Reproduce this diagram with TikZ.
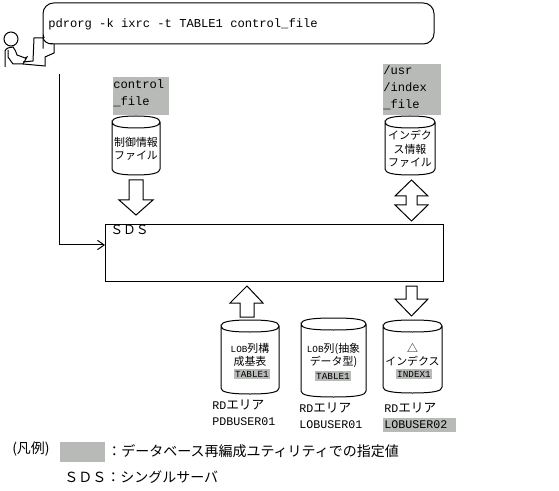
\documentclass[tikz,border=0pt]{standalone}
\usepackage{fontspec}
\setmainfont{Liberation Mono}
\newfontfamily\jpfont{Noto Sans CJK JP}
\usetikzlibrary{arrows.meta}
\definecolor{spec}{RGB}{184,186,184}
% drum: left, right, top, bottom (reference pixels)
\newcommand{\drum}[4]{%
  \draw[ln] (#1,#3+6) .. controls (#1,#3+2) and (#1+8,#3) .. ({(#1+#2)/2},#3)
     .. controls (#2-8,#3) and (#2,#3+2) .. (#2,#3+6)
     .. controls (#2,#3+10) and (#2-8,#3+12) .. ({(#1+#2)/2},#3+12)
     .. controls (#1+8,#3+12) and (#1,#3+10) .. (#1,#3+6)
     -- (#1,#4-6) .. controls (#1,#4-2) and (#1+8,#4) .. ({(#1+#2)/2},#4)
     .. controls (#2-8,#4) and (#2,#4-2) .. (#2,#4-6) -- (#2,#3+6);}

\begin{document}
\begin{tikzpicture}[x=0.75pt,y=-0.75pt,
  ln/.style={draw=black,line width=0.75pt},
  patch/.style={fill=spec,draw=none},
  lab/.style={inner sep=0pt,align=left,anchor=north west},
  jp/.style={inner sep=0pt,align=center,font=\fontsize{7}{10}\selectfont},
  jpj/.style={inner sep=0pt,align=center,font=\jpfont\fontsize{8.2}{10}\selectfont},
  tag/.style={inner sep=0pt,font=\fontsize{7}{8}\selectfont},
  rd/.style={inner sep=0pt,anchor=north west,align=left,font=\fontsize{8.75}{12}\selectfont}]
\useasboundingbox (0,0) rectangle (559,491);

%% command balloon and operator
\draw[ln,rounded corners=8pt] (43,38) -- (43,3) -- (434,3) -- (434,44) -- (43,44) -- cycle;
\fill[white] (44,38) rectangle (54,43.5);
\draw[ln] (43,38) -- (34,38) -- (33,61) -- (23,62);
\draw[ln] (23,64) -- (45,66) -- (45,57) -- (54,53) -- (54,44);
\draw[ln] (43,38) .. controls (44,41) and (47,44) .. (52,44);
\node[lab,font=\fontsize{9.1}{11}\selectfont] (cmd) at (48,18) {pdrorg -k ixrc -t TABLE1 control\_file};
\node[ln,circle,fill=white,minimum size=10.5pt,inner sep=0pt] (head) at (11,39) {};
\draw[ln] (5,67) -- (5,51) .. controls (6,48) and (10,47) .. (13,47) .. controls (15,49) and (16,52) .. (17,55) -- (25,58) -- (27,57) -- (23,64) -- (13,64) -- (8,57) -- (8,50);

%% specified values
\fill[patch] (113,77) rectangle (169,115);
\fill[patch] (383,64) rectangle (441,115);
\fill[patch] (383,418) rectangle (456,432);
\fill[patch] (60,442) rectangle (105,462);

\node[lab,font=\fontsize{9.1}{12.8}\selectfont] (ctlname) at (113,79) {control\\\_file};
\node[lab,font=\fontsize{9.1}{12.8}\selectfont] (idxname) at (383,65) {/usr\\/index\\\_file};

%% files
\drum{112}{160}{116}{175}
\drum{385}{435}{116}{175}
\node[jpj] (ctltext) at (136,149) {制御情報\\ファイル};
\node[jpj] (idxtext) at (410,149) {インデク\\ス情報\\ファイル};

%% server
\node[ln,minimum width=253.5pt,minimum height=42pt,inner sep=0pt] (sds) at (274.5,253) {};
\node[lab,font=\jpfont\fontsize{9.6}{11}\selectfont] (sdsname) at (110,225) {ＳＤＳ};
\coordinate (from) at (59,74);
\coordinate (into) at (105,245);
\draw[ln,-{Straight Barb[length=5pt,width=7pt]}] (from) |- (into);

%% block arrows
\draw[ln] (129,180) -- (143,180) -- (143,200) -- (153,200) -- (136,215) -- (119,200) -- (129,200) -- cycle;
\draw[ln] (411.5,180) -- (428,196) -- (417,196) -- (417,205) -- (428,205) -- (411.5,221) -- (395,205) -- (406,205) -- (406,196) -- (395,196) -- cycle;
\draw[ln] (247,286) -- (263,303) -- (254,303) -- (254,317) -- (240,317) -- (240,303) -- (230,303) -- cycle;
\draw[ln] (406,286) -- (417,286) -- (417,299) -- (428,299) -- (411.5,316) -- (395,299) -- (406,299) -- cycle;

%% RD areas
\drum{221}{279}{320}{394}
\drum{301}{366}{318}{397}
\drum{383}{442}{320}{393}
\fill[patch] (234,369) rectangle (270,379);
\fill[patch] (315,371) rectangle (351,381);
\fill[patch] (396,369) rectangle (432,379);
\node[jp] (pdbtext) at (250,355) {LOB{\jpfont\fontsize{8.2}{10}\selectfont 列構}\\{\jpfont\fontsize{8.2}{10}\selectfont 成基表}};
\node[jp] (lobtext) at (333.5,355.5) {LOB{\jpfont\fontsize{8.2}{10}\selectfont 列(抽象}\\{\jpfont\fontsize{8.2}{10}\selectfont データ型)}};
\node[jpj] (inxtext) at (412.5,354.5) {△\\インデクス};
\node[tag] (pdbtab) at (252,374) {TABLE1};
\node[tag] (lobtab) at (333,376) {TABLE1};
\node[tag] (inxtab) at (414,374) {INDEX1};
\node[rd] (pdbarea) at (212,399.5) {RD{\jpfont\fontsize{9.5}{12}\selectfont エリア}\\PDBUSER01};
\node[rd] (lobarea) at (299,402.5) {RD{\jpfont\fontsize{9.5}{12}\selectfont エリア}\\LOBUSER01};
\node[rd] (inxarea) at (384,403) {RD{\jpfont\fontsize{9.5}{12}\selectfont エリア}\\LOBUSER02};

%% legend
\node[lab,font=\jpfont\fontsize{10.5}{12}\selectfont] (hanrei) at (12,442) {(凡例)};
\node[lab,font=\jpfont\fontsize{10.5}{12}\selectfont] (spectext) at (107,444) {：データベース再編成ユティリティでの指定値};
\node[lab,font=\jpfont\fontsize{10.5}{12}\selectfont] (sdstext) at (64,470) {ＳＤＳ：シングルサーバ};
\end{tikzpicture}
\end{document}
